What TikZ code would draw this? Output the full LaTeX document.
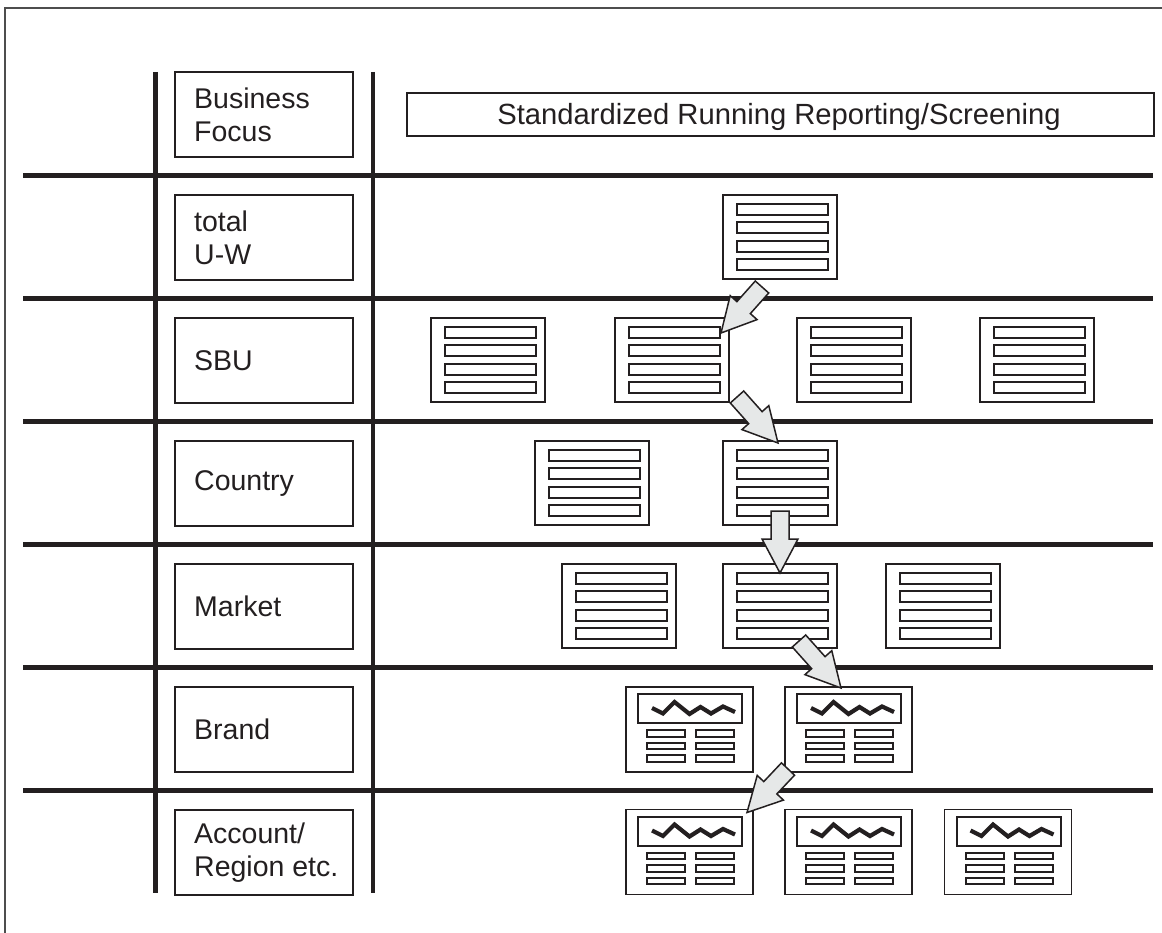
\documentclass[tikz,border=0pt]{standalone}
\usepackage{fontspec}
\setmainfont{Liberation Sans}
\usetikzlibrary{calc}

\definecolor{ink}{HTML}{231F20}
\definecolor{arrowgray}{HTML}{E6E8E8}
\definecolor{framegray}{HTML}{4D4D4D}

\newcommand\lblfont{\fontsize{28.5}{33}\selectfont}
\newcommand\hdrfont{\fontsize{29.2}{33}\selectfont}

% block arrow from tail centre #1 to tip #2
\newcommand\flowarrow[2]{%
  \coordinate (fa-base) at ($(#2)!34pt!(#1)$);
  \filldraw[flowarrow] ($(#1)!9pt!90:(#2)$) -- ($(fa-base)!9pt!90:(#2)$)
    -- ($(fa-base)!18pt!90:(#2)$) -- (#2) -- ($(fa-base)!18pt!-90:(#2)$)
    -- ($(fa-base)!9pt!-90:(#2)$) -- ($(#1)!9pt!-90:(#2)$) -- cycle;}

% list report: four text bars inside node #1
\newcommand\listbars[1]{%
  \begin{scope}[shift={(#1.north west)}]
    \foreach \r in {9,27.3,45.6,64}{\draw[bar] (14,\r) rectangle ++(91,11);}
  \end{scope}}

% chart report: trend panel and two columns of bars inside node #1
\newcommand\chartbars[1]{%
  \begin{scope}[shift={(#1.north west)}]
    \draw[bar] (12,7) rectangle (116,36);
    \draw[wave] (26,21) -- (37,26.5) -- (48.5,15) -- (63.5,27) -- (74.5,20) -- (85,26.5) -- (97,19.5) -- (109,25);
    \foreach \r in {43,55.5,68}{
      \draw[bar] (21,\r) rectangle ++(38,6.5);
      \draw[bar] (70,\r) rectangle ++(38,6.5);}
  \end{scope}}

\tikzset{
  gridline/.style={draw=ink, line width=4.5pt},
  framerule/.style={draw=framegray, line width=1.3pt},
  labelbox/.style={draw=ink, line width=1.5pt, minimum width=178pt, minimum height=85pt, inner sep=0pt, outer sep=0pt},
  labeltext/.style={anchor=west, align=left, inner sep=0pt, font=\lblfont, text=ink},
  bar/.style={draw=ink, line width=2pt},
  wave/.style={draw=ink, line width=4.2pt, line join=miter},
  docicon/.style={draw=ink, line width=1.6pt, fill=white, minimum width=114pt, minimum height=84pt,
    inner sep=0pt, outer sep=0pt},
  brandicon/.style={draw=ink, line width=1.6pt, fill=white, minimum width=127pt, minimum height=85pt,
    inner sep=0pt, outer sep=0pt},
  flowarrow/.style={draw=ink, fill=arrowgray, line width=1.5pt, line join=miter},
}

\begin{document}
\begin{tikzpicture}[x=1pt,y=-1pt]
\useasboundingbox (0,0) rectangle (1162,933);

% outer frame
\draw[framerule] (5,933) -- (5,8) -- (1162,8);

% grid of rows and columns
\foreach \yy in {175.5,298.5,421.5,544.5,667.5,790.5}{\draw[gridline] (23,\yy) -- (1153,\yy);}
\draw[gridline] (155.5,72) -- (155.5,893);
\draw[gridline] (373,72) -- (373,893);

% row labels
\node[labelbox] (l0) at (264,114.5) {};
\node[labeltext] (t0) at ([xshift=19pt]l0.west) {Business\\Focus};
\node[labelbox] (l1) at (264,237.5) {};
\node[labeltext] (t1) at ([xshift=19pt]l1.west) {total\\U-W};
\node[labelbox] (l2) at (264,360.5) {};
\node[labeltext] (t2) at ([xshift=19pt]l2.west) {SBU};
\node[labelbox] (l3) at (264,483.5) {};
\node[labeltext] (t3) at ([xshift=19pt]l3.west) {Country};
\node[labelbox] (l4) at (264,606.5) {};
\node[labeltext] (t4) at ([xshift=19pt]l4.west) {Market};
\node[labelbox] (l5) at (264,729.5) {};
\node[labeltext] (t5) at ([xshift=19pt]l5.west) {Brand};
\node[labelbox] (l6) at (264,852.5) {};
\node[labeltext] (t6) at ([xshift=19pt]l6.west) {Account/\\Region etc.};

% header
\node[draw=ink, line width=1.5pt, minimum width=747pt, minimum height=43pt, inner sep=0pt] (hdr) at (780.5,114.5) {};
\node[anchor=base, inner sep=0pt, font=\hdrfont, text=ink] (hdrtext) at (779,125) {Standardized Running Reporting/Screening};

% list reports
\node[docicon] (tuw) at (780,237) {};
\node[docicon] (sbu1) at (488,360) {};
\node[docicon] (sbu2) at (672,360) {};
\node[docicon] (sbu3) at (854,360) {};
\node[docicon] (sbu4) at (1037,360) {};
\node[docicon] (cty1) at (592,483) {};
\node[docicon] (cty2) at (780,483) {};
\node[docicon] (mkt1) at (619,606) {};
\node[docicon] (mkt2) at (780,606) {};
\node[docicon] (mkt3) at (943,606) {};
\foreach \n in {tuw,sbu1,sbu2,sbu3,sbu4,cty1,cty2,mkt1,mkt2,mkt3}{\listbars{\n}}

% chart reports
\node[brandicon] (brand1) at (689.5,729.5) {};
\node[brandicon] (brand2) at (848.5,729.5) {};
\node[brandicon] (acc1) at (689.5,852) {};
\node[brandicon] (acc2) at (848.5,852) {};
\node[brandicon] (acc3) at (1008,852) {};
\foreach \n in {brand1,brand2,acc1,acc2,acc3}{\chartbars{\n}}

% drill-down path
\coordinate (a1s) at ($(tuw.south west)+(39,8)$);
\coordinate (a1e) at ($(sbu2.north east)+(-8,15)$);
\coordinate (a2s) at ($(sbu2.south east)+(8,-5)$);
\coordinate (a2e) at ($(cty2.north)+(-2,2)$);
\coordinate (a3s) at ($(cty2.south)+(0,-14)$);
\coordinate (a3e) at ($(mkt2.north)+(0,9)$);
\coordinate (a4s) at ($(mkt2.south)+(19,-7)$);
\coordinate (a4e) at ($(brand2.north)+(-7.5,1)$);
\coordinate (a5s) at ($(brand2.south west)+(3,-3)$);
\coordinate (a5e) at ($(acc1.north east)+(-6,3)$);
\flowarrow{a1s}{a1e}
\flowarrow{a2s}{a2e}
\flowarrow{a3s}{a3e}
\flowarrow{a4s}{a4e}
\flowarrow{a5s}{a5e}
\end{tikzpicture}
\end{document}
